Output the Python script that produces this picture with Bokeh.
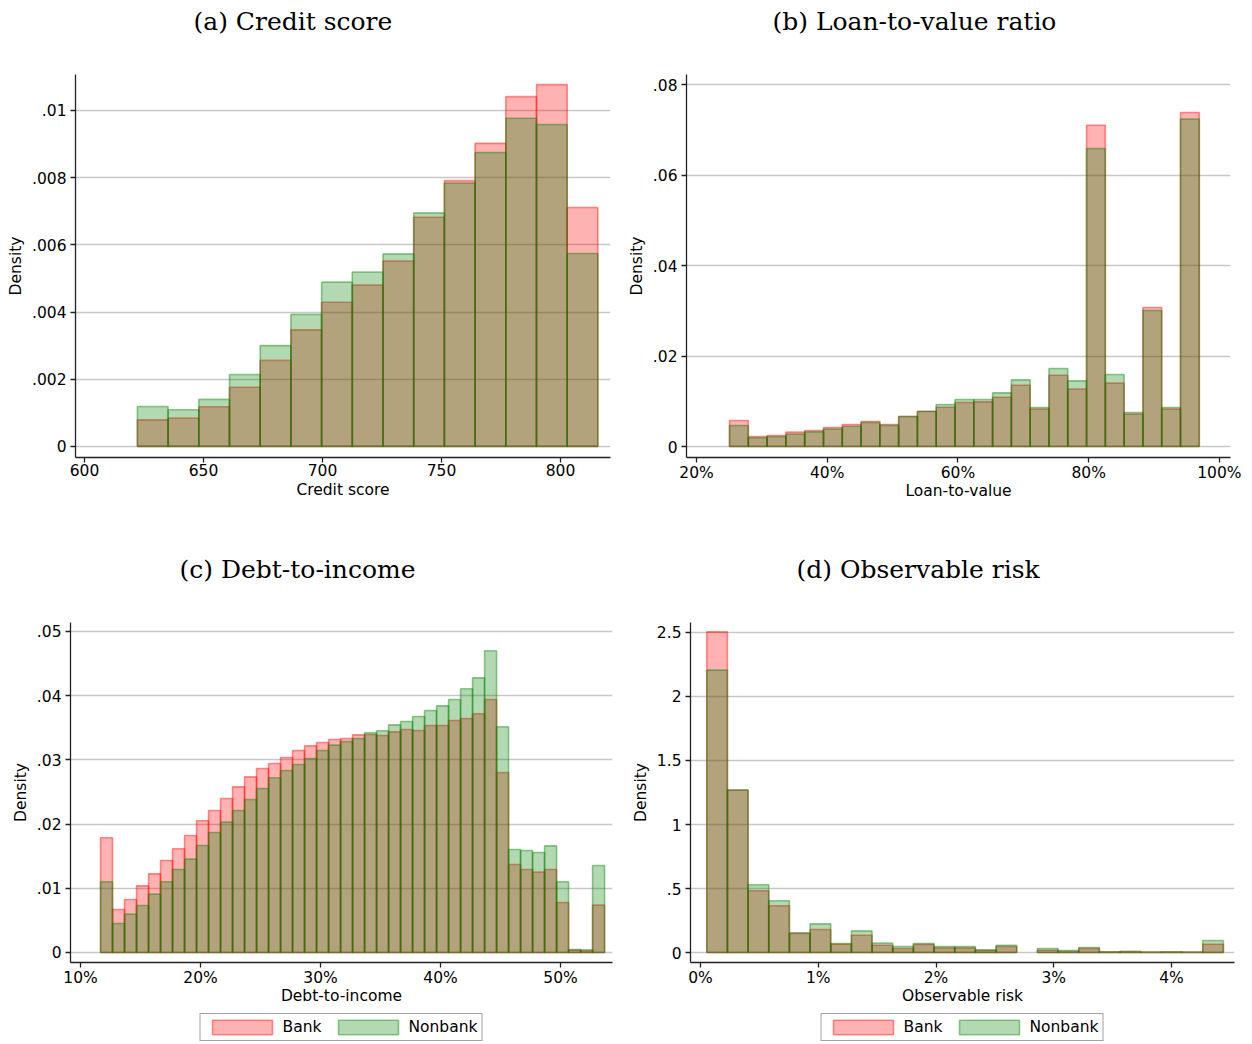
from bokeh.plotting import figure
from bokeh.models import Range1d, FixedTicker, Title, Legend, LegendItem, ColumnDataSource
from bokeh.layouts import column, row
from bokeh.embed import file_html
from bokeh.resources import INLINE

# ---------------- data ----------------
SERIES = ["Bank", "Nonbank"]

# (a) Credit score: histogram bins
CS_BIN_START = 622.2
CS_BIN_WIDTH = 12.9
CS_BANK = [0.00079, 0.000845, 0.00118, 0.00176, 0.00256, 0.00347, 0.00429, 0.00480,
           0.00552, 0.00682, 0.00791, 0.00902, 0.01041, 0.01077, 0.00711]
CS_NONBANK = [0.00119, 0.00109, 0.00140, 0.00214, 0.00300, 0.00393, 0.00489, 0.00519,
              0.00573, 0.00695, 0.00784, 0.00875, 0.00977, 0.00958, 0.00574]
CS_XTICKS = [600, 650, 700, 750, 800]
CS_XTICK_LABELS = ["600", "650", "700", "750", "800"]
CS_YTICKS = [0, 0.002, 0.004, 0.006, 0.008, 0.01]
CS_YTICK_LABELS = ["0", ".002", ".004", ".006", ".008", ".01"]

# (b) Loan-to-value (percent)
LTV_BIN_START = 25.05
LTV_BIN_WIDTH = 2.875
LTV_BANK = [0.00575, 0.00221, 0.00243, 0.00317, 0.00354, 0.00420, 0.00486, 0.00552,
            0.00486, 0.00663, 0.00773, 0.00869, 0.00972, 0.00987, 0.01090, 0.01355,
            0.00825, 0.01576, 0.01267, 0.07100, 0.01400, 0.00715, 0.03072, 0.00825, 0.07381]
LTV_NONBANK = [0.00464, 0.00192, 0.00214, 0.00273, 0.00324, 0.00383, 0.00449, 0.00530,
               0.00464, 0.00663, 0.00780, 0.00928, 0.01039, 0.01039, 0.01186, 0.01473,
               0.00862, 0.01724, 0.01451, 0.06586, 0.01591, 0.00751, 0.03006, 0.00862, 0.07234]
LTV_XTICKS = [20, 40, 60, 80, 100]
LTV_XTICK_LABELS = ["20%", "40%", "60%", "80%", "100%"]
LTV_YTICKS = [0, 0.02, 0.04, 0.06, 0.08]
LTV_YTICK_LABELS = ["0", ".02", ".04", ".06", ".08"]

# (c) Debt-to-income (percent)
DTI_BIN_START = 11.67
DTI_BIN_WIDTH = 1.0
DTI_BANK = [0.01786, 0.00670, 0.00826, 0.01038, 0.01225, 0.01433, 0.01615, 0.01822,
            0.02051, 0.02212, 0.02399, 0.02580, 0.02736, 0.02866, 0.02944, 0.03037,
            0.03146, 0.03219, 0.03271, 0.03318, 0.03333, 0.03390, 0.03396, 0.03380,
            0.03437, 0.03474, 0.03458, 0.03536, 0.03536, 0.03614, 0.03645, 0.03718,
            0.03941, 0.02804, 0.01371, 0.01293, 0.01251, 0.01293, 0.00779, 0.00036,
            0.00026, 0.00737]
DTI_NONBANK = [0.01101, 0.00452, 0.00597, 0.00732, 0.00909, 0.01101, 0.01293, 0.01454,
               0.01667, 0.01869, 0.02030, 0.02212, 0.02383, 0.02555, 0.02721, 0.02835,
               0.02928, 0.03022, 0.03146, 0.03230, 0.03287, 0.03333, 0.03422, 0.03453,
               0.03546, 0.03598, 0.03676, 0.03769, 0.03842, 0.03941, 0.04107, 0.04278,
               0.04699, 0.03515, 0.01604, 0.01589, 0.01558, 0.01661, 0.01101, 0.00047,
               0.00042, 0.01355]
DTI_XTICKS = [10, 20, 30, 40, 50]
DTI_XTICK_LABELS = ["10%", "20%", "30%", "40%", "50%"]
DTI_YTICKS = [0, 0.01, 0.02, 0.03, 0.04, 0.05]
DTI_YTICK_LABELS = ["0", ".01", ".02", ".03", ".04", ".05"]

# (d) Observable risk (percent)
RISK_BIN_START = 0.053
RISK_BIN_WIDTH = 0.1755
RISK_BANK = [2.505, 1.268, 0.482, 0.365, 0.148, 0.180, 0.065, 0.135, 0.057, 0.031,
             0.063, 0.036, 0.036, 0.016, 0.047, 0.0, 0.018, 0.008, 0.031, 0.005,
             0.008, 0.003, 0.005, 0.003, 0.065]
RISK_NONBANK = [2.206, 1.271, 0.529, 0.404, 0.154, 0.224, 0.070, 0.169, 0.073, 0.047,
                0.070, 0.047, 0.047, 0.021, 0.057, 0.0, 0.031, 0.016, 0.039, 0.005,
                0.008, 0.003, 0.005, 0.003, 0.094]
RISK_XTICKS = [0, 1, 2, 3, 4]
RISK_XTICK_LABELS = ["0%", "1%", "2%", "3%", "4%"]
RISK_YTICKS = [0, 0.5, 1, 1.5, 2, 2.5]
RISK_YTICK_LABELS = ["0", ".5", "1", "1.5", "2", "2.5"]

# ---------------- styling ----------------
BANK_COLOR = "#ff0000"
NONBANK_COLOR = "#008000"
FILL_ALPHA = 0.3
LINE_ALPHA = 0.42
SANS = "DejaVu Sans"
SERIF = "DejaVu Serif"
TICK_SIZE = "15.5px"

BANK_STYLE = dict(fill_color=BANK_COLOR, fill_alpha=FILL_ALPHA,
                  line_color=BANK_COLOR, line_alpha=LINE_ALPHA, line_width=1.6)
NONBANK_STYLE = dict(fill_color=NONBANK_COLOR, fill_alpha=FILL_ALPHA,
                     line_color=NONBANK_COLOR, line_alpha=LINE_ALPHA, line_width=1.6)


def hist_source(start, width, values):
    left, right, top = [], [], []
    for i, v in enumerate(values):
        if v <= 0:
            continue
        left.append(start + i * width)
        right.append(start + (i + 1) * width)
        top.append(v)
    return ColumnDataSource(dict(left=left, right=right, top=top))


def make_panel(title, title_offset, xlabel, start, width, bank, nonbank, xticks, xlabels,
               yticks, ylabels, xr, yr, frame_w, frame_h, mb, xlabel_standoff):
    p = figure(frame_width=frame_w, frame_height=frame_h,
               min_border_left=mb[0], min_border_top=mb[1], min_border_right=mb[2],
               min_border_bottom=mb[3],
               x_range=Range1d(*xr), y_range=Range1d(*yr),
               output_backend="svg", toolbar_location=None)
    p.outline_line_color = None
    p.background_fill_color = "white"
    p.border_fill_color = "white"

    p.quad(left="left", right="right", bottom=0, top="top",
           source=hist_source(start, width, bank), **BANK_STYLE)
    p.quad(left="left", right="right", bottom=0, top="top",
           source=hist_source(start, width, nonbank), **NONBANK_STYLE)

    p.xgrid.visible = False
    p.ygrid.grid_line_color = "#c8c8c8"
    p.ygrid.grid_line_width = 1.5
    p.ygrid.ticker = FixedTicker(ticks=yticks)

    for ax in (p.xaxis[0], p.yaxis[0]):
        ax.axis_line_color = "#222222"
        ax.axis_line_width = 1.3
        ax.major_tick_line_color = "#222222"
        ax.major_tick_line_width = 1.3
        ax.major_tick_out = 5
        ax.major_tick_in = 0
        ax.minor_tick_line_color = None
        ax.major_label_text_font = SANS
        ax.major_label_text_font_size = TICK_SIZE
        ax.major_label_text_color = "black"
        ax.axis_label_text_font = SANS
        ax.axis_label_text_font_size = TICK_SIZE
        ax.axis_label_text_font_style = "normal"
        ax.axis_label_text_color = "black"

    p.xaxis.ticker = FixedTicker(ticks=xticks)
    p.xaxis.major_label_overrides = dict(zip(xticks, xlabels))
    p.xaxis.axis_label = xlabel
    p.xaxis.major_label_standoff = 1
    p.xaxis.axis_label_standoff = xlabel_standoff

    p.yaxis.ticker = FixedTicker(ticks=yticks)
    p.yaxis.major_label_overrides = dict(zip(yticks, ylabels))
    p.yaxis.major_label_orientation = "horizontal"
    p.yaxis.axis_label = "Density"
    p.yaxis.major_label_standoff = 4
    p.yaxis.axis_label_standoff = 4

    # spacer (nearest the frame) then the panel title above it
    p.add_layout(Title(text=" ", text_font_size="10px", standoff=26), "above")
    p.add_layout(Title(text=title, text_font=SERIF, text_font_size="25px",
                       text_font_style="normal", text_color="black",
                       align="left", offset=title_offset, standoff=0,
                       vertical_align="bottom"), "above")
    return p


def make_legend_strip(left_border, frame_w, right_border, frame_h):
    p = figure(frame_width=frame_w, frame_height=frame_h,
               min_border_left=left_border, min_border_right=right_border,
               min_border_top=0, min_border_bottom=0,
               x_axis_type=None, y_axis_type=None,
               x_range=Range1d(0, 1), y_range=Range1d(0, 1),
               output_backend="svg", toolbar_location=None)
    p.outline_line_color = None
    p.xgrid.visible = False
    p.ygrid.visible = False
    nan = float("nan")
    # key-only renderers: a single undefined (NaN) entry so the legend swatch is drawn
    key = dict(left=[nan], right=[nan], bottom=[nan], top=[nan])
    rb = p.quad(source=ColumnDataSource(dict(key)), left="left", right="right",
                bottom="bottom", top="top", **BANK_STYLE)
    rn = p.quad(source=ColumnDataSource(dict(key)), left="left", right="right",
                bottom="bottom", top="top", **NONBANK_STYLE)
    legend = Legend(items=[LegendItem(label=SERIES[0], renderers=[rb]),
                           LegendItem(label=SERIES[1], renderers=[rn])],
                    location="center", orientation="horizontal",
                    border_line_color="#444444", border_line_width=1,
                    background_fill_color="white", background_fill_alpha=1.0,
                    label_text_font=SANS, label_text_font_size=TICK_SIZE,
                    label_text_color="black",
                    glyph_width=75, glyph_height=18, label_height=18,
                    label_standoff=3, spacing=9, padding=4, margin=0)
    p.add_layout(legend)
    return p


pa = make_panel("(a) Credit score", 118, "Credit score", CS_BIN_START, CS_BIN_WIDTH, CS_BANK, CS_NONBANK,
                CS_XTICKS, CS_XTICK_LABELS, CS_YTICKS, CS_YTICK_LABELS,
                (596.2, 821.0), (-0.00033, 0.01107), 535, 383, (75, 74, 10, 83), 2)
pb = make_panel("(b) Loan-to-value ratio", 86, "Loan-to-value", LTV_BIN_START, LTV_BIN_WIDTH, LTV_BANK, LTV_NONBANK,
                LTV_XTICKS, LTV_XTICK_LABELS, LTV_YTICKS, LTV_YTICK_LABELS,
                (18.47, 101.7), (-0.00243, 0.08221), 544, 383, (66, 74, 20, 83), -3)
pc = make_panel("(c) Debt-to-income", 109, "Debt-to-income", DTI_BIN_START, DTI_BIN_WIDTH, DTI_BANK, DTI_NONBANK,
                DTI_XTICKS, DTI_XTICK_LABELS, DTI_YTICKS, DTI_YTICK_LABELS,
                (9.167, 54.33), (-0.00156, 0.0514), 542, 340, (70, 82, 8, 49), -3)
pd_ = make_panel("(d) Observable risk", 106, "Observable risk", RISK_BIN_START, RISK_BIN_WIDTH, RISK_BANK, RISK_NONBANK,
                 RISK_XTICKS, RISK_XTICK_LABELS, RISK_YTICKS, RISK_YTICK_LABELS,
                 (-0.085, 4.535), (-0.078, 2.578), 544, 340, (70, 82, 16, 49), -3)

leg_c = make_legend_strip(70, 542, 8, 32)
leg_d = make_legend_strip(70, 544, 16, 32)

layout = column(row(pa, pb), row(pc, pd_), row(leg_c, leg_d))

open("out.html", "w").write(file_html(layout, INLINE))
